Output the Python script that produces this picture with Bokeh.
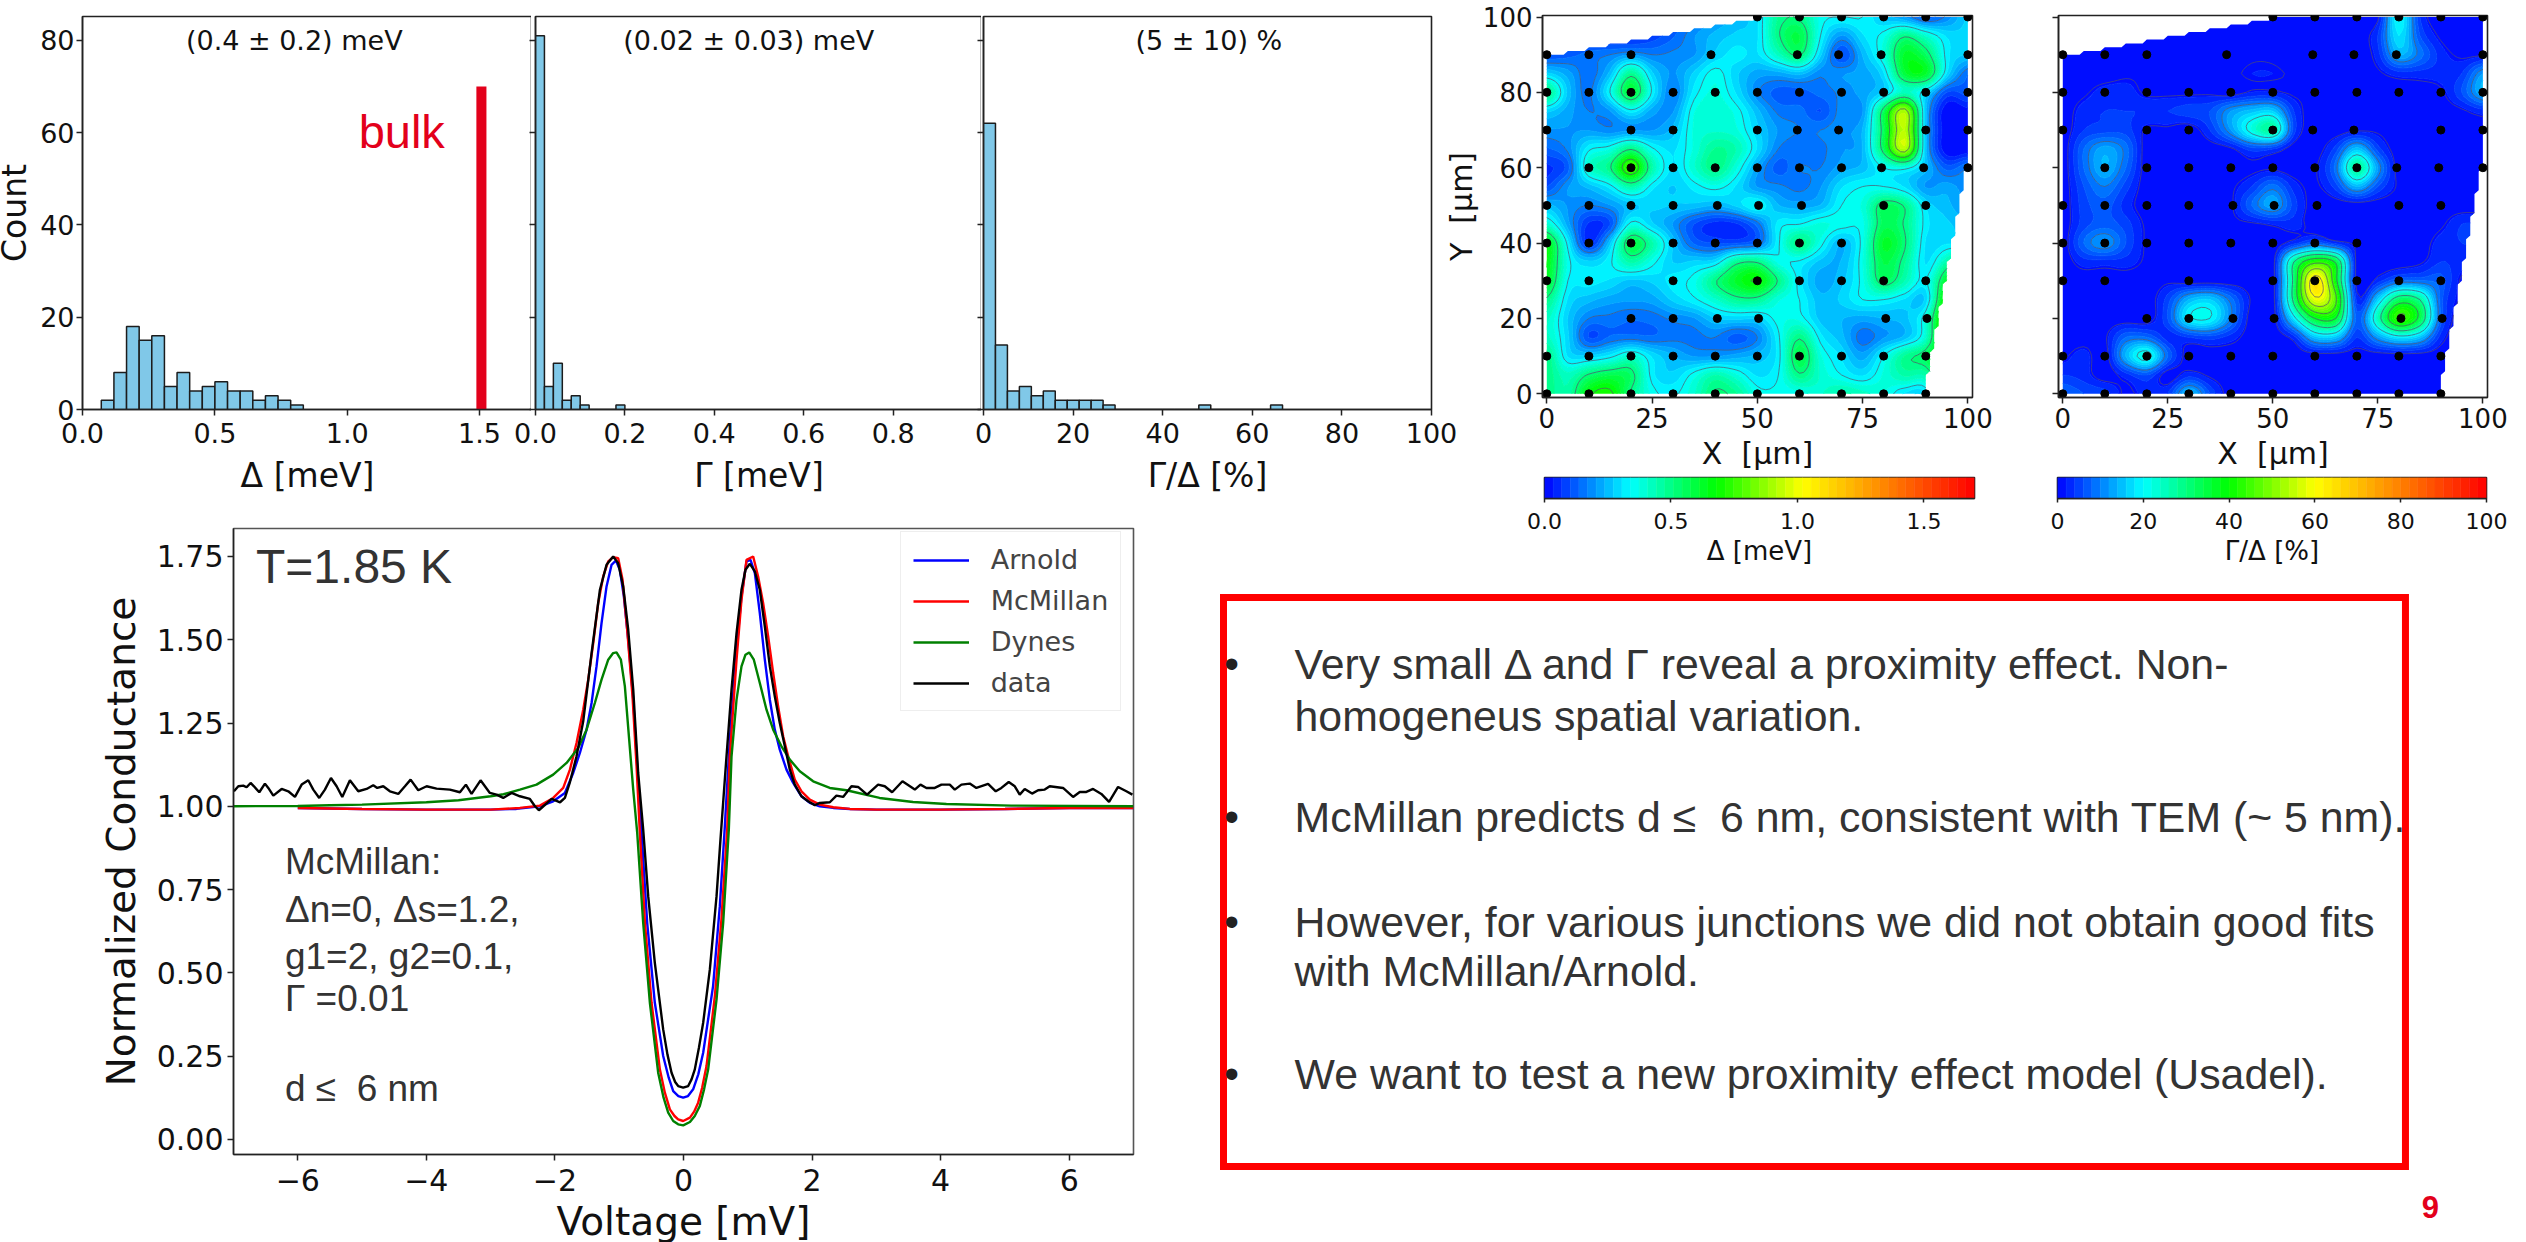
import numpy as np
from bokeh.plotting import figure
from bokeh.models import Range1d, FixedTicker, Legend, LegendItem, Row
from bokeh.core.properties import value
from bokeh.embed import file_html
from bokeh.resources import INLINE

# ---------- histogram data ----------
delta_start, delta_width = 0.071, 0.0477
delta_counts = [2, 8, 18, 15, 16, 5, 8, 4, 5, 6, 4, 4, 2, 3, 2, 1]
gamma_start, gamma_width = 0.0, 0.02
gamma_counts = [81, 5, 10, 2, 3, 1, 0, 0, 0, 1]
ratio_start, ratio_width = 0.0, 2.67
ratio_counts = [62, 14, 4, 5, 3, 4, 2, 2, 2, 2, 1, 0, 0, 0, 0, 0, 0, 0, 1, 0, 0, 0, 0, 0, 1]
hist_titles = ["(0.4 ± 0.2) meV", "(0.02 ± 0.03) meV", "(5 ± 10) %"]
hist_labels = ["Δ [meV]", "Γ [meV]", "Γ/Δ [%]"]
bulk_value, bulk_top = 1.507, 70

# ---------- maps: measured points ----------
pts_y100 = [50, 60, 70, 80, 90, 100]
pts_y90 = [0, 10, 20, 39, 59.5, 69.3, 79.4, 100]
pts_y80 = [0, 10, 20, 30, 40, 50, 60, 70, 80, 90, 100]
pts_y70 = [0, 20, 30, 50, 59.5, 69.3, 90, 100]
pts_y60 = [10, 20, 30, 40, 50, 60, 70, 79.5, 89.5, 100]
pts_y50 = [0, 10, 20, 30, 40.5, 50.3, 60.5, 80, 90]
pts_y40 = [0, 10, 20, 30, 40, 50, 60, 70]
pts_y30 = [0, 10, 30, 50, 60, 70, 80, 90]
pts_y20 = [20, 30, 40.5, 50.3, 80.5, 90.3]
pts_y10 = [0, 10, 20, 30, 40, 50, 60, 70, 80, 90]
pts_y0 = [0, 10, 20, 30, 40, 50, 60, 70, 80, 90]
pts_rows = [(100, pts_y100), (90, pts_y90), (80, pts_y80), (70, pts_y70), (60, pts_y60), (50, pts_y50),
            (40, pts_y40), (30, pts_y30), (20, pts_y20), (10, pts_y10), (0, pts_y0)]
map_grid = list(range(0, 101, 5))
hull_x = [0, 90, 100, 100, 50, 0]
hull_y = [0, 0, 60, 100, 100, 90]

# Delta map (meV), rows y=100 ... y=0, columns x=0 ... 100 every 5
delta_map = [
 [.05,.05,.05,.05,.05,.06,.10,.15,.20,.25,.30,.48,.50,.36,.34,.34,.26,.20,.12,.18,.28],
 [.05,.05,.05,.05,.05,.08,.13,.20,.25,.28,.30,.50,.58,.34,.20,.30,.36,.50,.40,.30,.28],
 [.10,.12,.15,.17,.20,.17,.18,.20,.28,.32,.30,.42,.52,.28,.10,.24,.38,.62,.55,.32,.27],
 [.28,.22,.15,.25,.48,.28,.20,.28,.36,.28,.22,.22,.25,.18,.20,.22,.30,.60,.62,.30,.14],
 [.50,.26,.16,.34,.60,.33,.17,.32,.38,.30,.18,.12,.12,.15,.18,.22,.28,.42,.30,.10,.12],
 [.28,.22,.17,.20,.32,.22,.20,.37,.40,.36,.25,.16,.15,.10,.19,.20,.55,.90,.25,.00,.02],
 [.20,.20,.20,.18,.20,.20,.25,.38,.40,.38,.28,.20,.17,.17,.20,.24,.55,.92,.25,.00,.00],
 [.13,.18,.33,.37,.50,.35,.30,.38,.48,.44,.30,.17,.15,.16,.20,.24,.55,.92,.25,.00,.00],
 [.06,.12,.40,.50,.76,.45,.30,.40,.50,.38,.22,.12,.17,.17,.22,.25,.34,.36,.25,.12,.17],
 [.10,.20,.25,.32,.45,.32,.27,.32,.36,.30,.20,.18,.16,.20,.30,.34,.34,.30,.20,.22,.18],
 [.25,.20,.17,.20,.26,.28,.27,.26,.24,.28,.34,.24,.22,.24,.34,.38,.55,.50,.30,.25,.20],
 [.40,.22,.06,.10,.36,.28,.20,.10,.05,.06,.15,.32,.34,.38,.36,.36,.56,.50,.32,.28,.25],
 [.65,.32,.06,.26,.58,.45,.26,.13,.10,.10,.14,.33,.50,.36,.24,.36,.62,.52,.30,.30,.30],
 [.65,.36,.28,.33,.45,.36,.27,.28,.30,.48,.50,.36,.33,.26,.24,.37,.58,.48,.30,.45,.60],
 [.62,.34,.32,.30,.26,.28,.32,.36,.50,.62,.68,.50,.32,.22,.26,.36,.55,.44,.33,.62,.80],
 [.50,.30,.25,.22,.21,.22,.28,.33,.40,.48,.48,.38,.34,.25,.28,.34,.34,.30,.28,.72,.80],
 [.42,.27,.17,.16,.14,.15,.18,.20,.27,.28,.28,.36,.36,.26,.24,.22,.24,.26,.38,.80,.80],
 [.42,.28,.10,.14,.15,.14,.16,.16,.17,.12,.17,.33,.50,.32,.25,.15,.20,.25,.40,.80,.80],
 [.50,.30,.28,.32,.40,.30,.24,.20,.20,.22,.25,.32,.58,.38,.30,.22,.34,.48,.55,.75,.80],
 [.50,.42,.52,.57,.54,.32,.28,.36,.44,.38,.30,.34,.50,.40,.34,.30,.38,.45,.45,.70,.80],
 [.50,.45,.66,.70,.50,.36,.33,.40,.52,.48,.36,.35,.36,.40,.45,.42,.38,.30,.30,.70,.80],
]
# Gamma/Delta map (%), same layout
ratio_map = [
 [0,0,0,0,0,0,0,0,0,0,0,0,0,0,0,1,20,4,0,1,0],
 [0,0,0,0,0,0,0,0,0,0,1,1,0,0,0,4,18,6,1,0,0],
 [0,0,0,0,0,0,0,0,0,1,1,0,0,0,0,3,14,9,3,1,1],
 [0,0,0,1,1,1,1,1,1,2,2,1,0,0,0,1,3,3,3,4,12],
 [0,1,3,3,1,1,1,1,0,2,2,1,1,0,0,0,0,0,1,6,14],
 [0,3,4,4,4,4,5,6,12,15,16,4,0,0,0,0,0,0,0,1,3],
 [0,4,5,5,1,1,0,4,12,22,27,5,0,0,1,1,0,0,0,0,0],
 [0,8,13,9,0,0,0,0,1,5,4,0,0,5,15,5,0,0,0,0,0],
 [0,8,14,8,0,0,0,0,0,1,1,0,1,9,28,12,0,0,0,0,0],
 [0,6,10,5,0,0,0,0,1,4,9,3,1,5,14,6,1,0,0,0,0],
 [0,5,7,3,0,0,1,1,1,8,13,5,0,0,0,0,0,0,0,0,0],
 [0,5,7,5,1,1,1,1,1,1,2,3,0,0,0,0,0,0,1,4,4],
 [0,8,12,6,1,0,0,0,0,0,0,3,7,3,1,0,0,0,3,4,4],
 [0,3,3,3,1,0,0,0,0,0,0,28,42,35,0,0,0,1,4,3,3],
 [0,0,0,0,0,1,0,0,0,0,0,30,64,38,0,3,8,8,7,1,1],
 [0,0,0,0,0,5,14,16,9,1,0,30,58,45,3,16,32,28,7,1,1],
 [0,0,0,0,0,6,19,20,10,0,0,18,36,36,7,25,44,34,7,0,0],
 [0,0,1,8,8,3,4,5,3,0,0,3,15,15,4,12,18,15,3,0,0],
 [1,3,0,14,22,8,0,0,0,0,0,0,0,0,0,0,0,0,0,0,0],
 [4,3,0,3,6,0,3,1,0,0,0,0,0,0,0,0,0,0,0,0,0],
 [8,6,5,1,3,4,15,6,0,0,0,0,0,0,0,0,0,0,0,0,0],
]

# ---------- conductance curves ----------
arnold_v = [-6,-5,-4,-3,-2.6,-2.234,-2.027,-1.845,-1.716,-1.612,-1.508,-1.43,-1.353,-1.275,-1.197,-1.119,-1.052,-.99,-.928,-.86,-.782,-.72,-.653,-.565,-.446,-.316,-.23,-.16,-.08,-.005,.07,.15,.23,.306,.46,.565,.64,.72,.825,.902,.98,1.042,1.11,1.187,1.265,1.343,1.42,1.498,1.602,1.706,1.835,1.965,2.12,2.33,2.587,3,4,5,6,7]
arnold_y = [.995,.992,.99,.99,.992,1.0,1.015,1.04,1.10,1.16,1.23,1.31,1.42,1.55,1.66,1.725,1.738,1.71,1.63,1.50,1.32,1.12,.92,.65,.41,.25,.185,.145,.13,.125,.13,.15,.195,.26,.46,.70,.93,1.20,1.47,1.63,1.735,1.74,1.70,1.58,1.44,1.32,1.23,1.17,1.11,1.07,1.03,1.01,1.0,.995,.992,.99,.99,.992,.995,.995]
mcmillan_v = [-6,-5,-4,-3,-2.545,-2.234,-2.027,-1.871,-1.767,-1.664,-1.56,-1.482,-1.404,-1.327,-1.249,-1.171,-1.094,-1.016,-.948,-.876,-.793,-.73,-.679,-.60,-.497,-.368,-.29,-.212,-.14,-.083,-.005,.10,.165,.228,.29,.358,.488,.59,.68,.72,.825,.902,.98,1.084,1.161,1.239,1.317,1.395,1.472,1.55,1.628,1.731,1.835,1.965,2.12,2.33,2.587,3,4,5,6,7]
mcmillan_y = [.995,.992,.99,.99,.995,1.002,1.025,1.055,1.11,1.19,1.29,1.38,1.49,1.61,1.69,1.735,1.748,1.745,1.68,1.53,1.33,1.12,.92,.65,.41,.21,.14,.09,.07,.06,.055,.065,.083,.11,.155,.22,.43,.66,.93,1.15,1.44,1.62,1.74,1.75,1.69,1.61,1.51,1.40,1.30,1.21,1.15,1.08,1.045,1.02,1.005,.997,.992,.99,.99,.992,.995,.995]
dynes_v = [-7,-6,-5.5,-5,-4,-3.5,-3,-2.8,-2.545,-2.286,-2.027,-1.819,-1.638,-1.508,-1.379,-1.275,-1.171,-1.094,-1.042,-.974,-.912,-.845,-.782,-.72,-.627,-.523,-.394,-.31,-.238,-.16,-.083,-.005,.10,.175,.254,.32,.384,.514,.617,.705,.747,.825,.902,.964,1.022,1.094,1.187,1.291,1.395,1.524,1.654,1.809,2.017,2.276,2.535,3.05,3.57,4.09,5.1,7]
dynes_y = [1.0,1.001,1.003,1.005,1.012,1.018,1.03,1.036,1.05,1.065,1.095,1.13,1.175,1.23,1.31,1.38,1.44,1.46,1.462,1.44,1.36,1.20,1.05,.92,.65,.41,.20,.125,.08,.055,.045,.042,.052,.07,.10,.15,.21,.42,.65,.93,1.15,1.32,1.42,1.455,1.462,1.44,1.37,1.29,1.23,1.18,1.14,1.105,1.075,1.055,1.048,1.025,1.013,1.007,1.002,1.0]
data_v = [-6.993,-6.925,-6.848,-6.796,-6.734,-6.682,-6.599,-6.511,-6.459,-6.381,-6.251,-6.148,-6.044,-5.94,-5.837,-5.759,-5.666,-5.578,-5.484,-5.396,-5.308,-5.189,-5.059,-4.93,-4.826,-4.764,-4.67,-4.567,-4.437,-4.333,-4.245,-4.126,-3.996,-3.841,-3.634,-3.478,-3.385,-3.297,-3.157,-3.012,-2.908,-2.804,-2.674,-2.545,-2.39,-2.31,-2.25,-2.18,-2.05,-1.92,-1.845,-1.77,-1.664,-1.56,-1.43,-1.30,-1.197,-1.094,-1.016,-.938,-.86,-.782,-.705,-.627,-.549,-.446,-.316,-.25,-.186,-.13,-.083,-.005,.073,.125,.176,.24,.306,.41,.514,.575,.669,.747,.825,.902,.964,1.032,1.11,1.187,1.265,1.343,1.42,1.498,1.576,1.654,1.731,1.835,1.939,2.043,2.12,2.276,2.379,2.483,2.613,2.716,2.856,3.027,3.131,3.245,3.406,3.598,3.686,3.779,3.909,4.012,4.142,4.22,4.323,4.453,4.556,4.738,4.857,4.945,5.059,5.153,5.23,5.308,5.422,5.516,5.619,5.697,5.904,6.06,6.164,6.267,6.371,6.5,6.62,6.76,6.889,6.983]
data_y = [1.045,1.06,1.062,1.057,1.07,1.06,1.042,1.068,1.055,1.032,1.052,1.045,1.028,1.065,1.078,1.05,1.025,1.05,1.085,1.06,1.028,1.078,1.045,1.052,1.063,1.055,1.06,1.045,1.037,1.06,1.08,1.048,1.06,1.053,1.05,1.042,1.065,1.037,1.078,1.04,1.035,1.025,1.04,1.03,1.022,1.0,.988,1.0,1.022,1.012,1.025,1.07,1.15,1.255,1.46,1.65,1.725,1.75,1.73,1.66,1.53,1.35,1.10,.93,.73,.53,.33,.255,.20,.172,.16,.155,.16,.18,.21,.275,.35,.51,.73,.90,1.15,1.35,1.52,1.65,1.71,1.728,1.705,1.65,1.54,1.42,1.33,1.25,1.18,1.11,1.065,1.03,1.015,1.003,1.01,1.012,1.032,1.028,1.06,1.058,1.035,1.065,1.06,1.042,1.075,1.05,1.065,1.055,1.055,1.065,1.065,1.05,1.065,1.068,1.055,1.067,1.045,1.055,1.073,1.06,1.035,1.052,1.038,1.048,1.05,1.06,1.055,1.028,1.043,1.043,1.052,1.037,1.013,1.058,1.045,1.035]
legend_names = ["Arnold", "McMillan", "Dynes", "data"]
note_lines = ["McMillan:", "Δn=0, Δs=1.2,", "g1=2, g2=0.1,", "Γ =0.01", "d ≤\u00a0 6 nm"]
bullets = [
    ["Very small Δ and Γ reveal a proximity effect. Non-", "homogeneus spatial variation."],
    ["McMillan predicts d ≤\u00a0 6 nm, consistent with TEM (~ 5 nm)."],
    ["However, for various junctions we did not obtain good fits", "with McMillan/Arnold."],
    ["We want to test a new proximity effect model (Usadel)."],
]

# ---------- helpers ----------
DEJA = "DejaVu Sans"
ARIAL = "Liberation Sans"
placed = []

def panel(fx0, fx1, fy0, fy1, l, r, t, b, xr, yr, **kw):
    fw, fh = fx1 - fx0, fy1 - fy0
    p = figure(width=l + fw + r, height=t + fh + b, frame_width=fw, frame_height=fh,
               min_border_left=l, min_border_right=r, min_border_top=t, min_border_bottom=b,
               x_range=Range1d(*xr), y_range=Range1d(*yr), output_backend="svg", toolbar_location=None,
               background_fill_color=None, border_fill_color=None, **kw)
    p.grid.visible = False
    p.outline_line_color = "#222222"
    p.outline_line_width = 1.6
    placed.append((fx0 - l, fy0 - t, p))
    return p

def style(ax, ticks, labels, size, label=None, lsize=33, ll=6, standoff=4, lstand=4):
    ax.ticker = FixedTicker(ticks=ticks)
    ax.major_label_overrides = dict(zip(ticks, labels))
    ax.major_label_text_font = DEJA
    ax.major_label_text_font_size = size
    ax.major_label_text_color = "#111111"
    ax.major_label_standoff = standoff
    ax.major_tick_in = 0
    ax.major_tick_out = ll
    ax.minor_tick_line_color = None
    ax.major_tick_line_color = "#222222"
    ax.major_tick_line_width = 1.5
    ax.axis_line_color = "#222222"
    ax.axis_line_width = 1.5
    if label:
        ax.axis_label = label
        ax.axis_label_text_font = DEJA
        ax.axis_label_text_font_style = "normal"
        ax.axis_label_text_font_size = f"{lsize}px"
        ax.axis_label_text_color = "#111111"
        ax.axis_label_standoff = lstand

def draw_hist(p, start, width, counts):
    edges = start + width * np.arange(len(counts) + 1)
    p.quad(left=edges[:-1], right=edges[1:], bottom=0, top=counts,
           fill_color="#80C8E8", line_color="#1c1c1c", line_width=1.5)

# ---------- histograms ----------
HY = (0, 85.15)
count_ticks = [0, 20, 40, 60, 80]
h1 = panel(86, 535, 17, 410, 86, 0, 0, 110, (0, 1.7), HY)
h2 = panel(535, 981, 17, 410, 40, 0, 0, 110, (0, 1), HY)
h3 = panel(981, 1428, 17, 410, 40, 40, 0, 110, (0, 100), HY)
style(h1.yaxis[0], count_ticks, [str(v) for v in count_ticks], "27px", "Count", 33, standoff=2, lstand=3)
style(h2.yaxis[0], count_ticks, [""] * 5, "27px", standoff=0)
style(h3.yaxis[0], count_ticks, [""] * 5, "27px", standoff=0)
style(h1.xaxis[0], [0, .5, 1, 1.5], ["0.0", "0.5", "1.0", "1.5"], "27px", hist_labels[0], standoff=7, lstand=10)
style(h2.xaxis[0], [0, .2, .4, .6, .8], ["0.0", "0.2", "0.4", "0.6", "0.8"], "27px", hist_labels[1], standoff=7, lstand=10)
style(h3.xaxis[0], [0, 20, 40, 60, 80, 100], ["0", "20", "40", "60", "80", "100"], "27px", hist_labels[2], standoff=7, lstand=10)
draw_hist(h1, delta_start, delta_width, delta_counts)
draw_hist(h2, gamma_start, gamma_width, gamma_counts)
draw_hist(h3, ratio_start, ratio_width, ratio_counts)
h1.vbar(x=[bulk_value], width=0.038, bottom=0, top=[bulk_top], fill_color="#E3001B", line_color=None)
h1.text(x=[1.206], y=[60.3], text=["bulk"], text_color="#E3001B", text_font=value(ARIAL), text_font_size="47px",
        text_align="center", text_baseline="middle")
for p, xc, t in zip((h1, h2, h3), (0.80, 0.477, 50.3), hist_titles):
    p.text(x=[xc], y=[80], text=[t], text_color="#111111", text_font=value(DEJA), text_font_size="27px",
           text_align="center", text_baseline="middle")

# ---------- colour scale ----------
def ramp(t):
    nodes = [(0, (0, 0, 255)), (.2, (0, 255, 255)), (.4, (0, 255, 0)), (.6, (255, 255, 0)), (1, (255, 0, 0))]
    for (a, ca), (b, cb) in zip(nodes[:-1], nodes[1:]):
        if t <= b:
            f = (t - a) / (b - a)
            c = [round(u + f * (v - u)) for u, v in zip(ca, cb)]
            return "#%02x%02x%02x" % tuple(c)
    return "#ff0000"

NLEV = 50
palette = [ramp((i + .5) / NLEV) for i in range(NLEV)]

def smooth(z, step=1.0):
    z = np.asarray(z, float)[::-1]
    def along(a, n):
        q = np.arange(0, (n - 1) * 5 + step / 2, step) / 5
        i = np.minimum(q.astype(int), n - 2)
        f = (q - i)[:, None]
        p0, p1, p2, p3 = a[np.maximum(i - 1, 0)], a[i], a[i + 1], a[np.minimum(i + 2, n - 1)]
        return .5 * (2 * p1 + (p2 - p0) * f + (2 * p0 - 5 * p1 + 4 * p2 - p3) * f**2 + (3 * p1 - p0 - 3 * p2 + p3) * f**3)
    z = along(z, z.shape[0])
    z = along(z.T, z.shape[1]).T
    return z

def draw_map(p, table, vmax, line_levels):
    z = np.clip(smooth(table), 0, vmax)
    xs = np.arange(0, 100.5, 1.0)
    ys = np.arange(0, 100.5, 1.0)
    X, Y = np.meshgrid(xs, ys)
    inside = np.ones_like(X, bool)
    n = len(hull_x)
    for k in range(n):
        x0, y0, x1, y1 = hull_x[k], hull_y[k], hull_x[(k + 1) % n], hull_y[(k + 1) % n]
        inside &= (x1 - x0) * (Y - y0) - (y1 - y0) * (X - x0) >= -1e-9
    zm = np.ma.masked_array(z, ~inside)
    levels = list(np.linspace(0, vmax, NLEV + 1))
    levels[0] = -1e-6
    levels[-1] = vmax * 1.001
    p.contour(xs, ys, zm, levels=levels, fill_color=palette, line_color=palette + palette[-1:], line_width=1)
    p.contour(xs, ys, zm, levels=line_levels, fill_color=None, line_color="#505070", line_alpha=0.7, line_width=1)
    px = [x for _, row in pts_rows for x in row]
    py = [y for y, row in pts_rows for _ in row]
    p.scatter(px, py, size=8, fill_color="black", line_color="black")

MX = (-1.02, 101.1)
MY = (-0.98, 100.4)
ax_ticks = [0, 25, 50, 75, 100]
ax_labels = [str(t) for t in ax_ticks]
y_ticks = [0, 20, 40, 60, 80, 100]
m1 = panel(1537, 1966, 15, 397, 105, 30, 15, 80, MX, MY)
m2 = panel(2048, 2476, 15, 397, 20, 30, 15, 80, MX, MY)
style(m1.xaxis[0], ax_ticks, ax_labels, "26px", "X \u00a0[μm]", 30, lstand=5)
style(m2.xaxis[0], ax_ticks, ax_labels, "26px", "X \u00a0[μm]", 30, lstand=5)
style(m1.yaxis[0], y_ticks, [str(t) for t in y_ticks], "26px", "Y \u00a0[μm]", 30, lstand=1)
style(m2.yaxis[0], y_ticks, [""] * 6, "26px", standoff=0)
draw_map(m1, delta_map, 1.7, [.17, .34, .51, .68, .85])
draw_map(m2, ratio_map, 100, [1.5, 10, 20, 28, 36, 44, 52, 60])

# ---------- colour bars ----------
def colour_bar(fx0, fx1, vmax, ticks, labels, label):
    p = panel(fx0, fx1, 478, 499, 30, 30, 0, 85, (0, vmax), (0, 1))
    e = np.linspace(0, vmax, NLEV + 1)
    p.quad(left=e[:-1], right=e[1:], bottom=0, top=1, fill_color=palette, line_color=palette, line_width=.5)
    p.yaxis.visible = False
    style(p.xaxis[0], ticks, labels, "22px", label, 26, ll=4, standoff=10)
    return p

colour_bar(1537, 1966, 1.7, [0, .5, 1, 1.5], ["0.0", "0.5", "1.0", "1.5"], "Δ [meV]")
colour_bar(2048, 2476, 100, [0, 20, 40, 60, 80, 100], ["0", "20", "40", "60", "80", "100"], "Γ/Δ [%]")

# ---------- conductance ----------
c = panel(234, 1133, 529, 1155, 125, 10, 0, 103, (-7, 7), (-0.0456, 1.834))
vt = [-6, -4, -2, 0, 2, 4, 6]
style(c.xaxis[0], vt, [str(v).replace("-", "−") for v in vt], "30px", "Voltage [mV]", 39, standoff=8, lstand=5)
gt = [0, .25, .5, .75, 1, 1.25, 1.5, 1.75]
style(c.yaxis[0], gt, ["%.2f" % v for v in gt], "30px", "Normalized Conductance", 39, lstand=10)
c.outline_line_color = "#555555"
r_a = c.line(arnold_v, arnold_y, line_color="#0000ff", line_width=2.4)
r_m = c.line(mcmillan_v, mcmillan_y, line_color="#ff0000", line_width=2.4)
r_d = c.line(dynes_v, dynes_y, line_color="#008000", line_width=2.4)
r_b = c.line(data_v, data_y, line_color="#000000", line_width=2.4)
leg = Legend(items=[LegendItem(label=n, renderers=[r]) for n, r in zip(legend_names, (r_a, r_m, r_d, r_b))],
             location=(667, 443), label_text_font=DEJA, label_text_font_size="27px", glyph_width=56, glyph_height=22,
             label_standoff=22, spacing=10, padding=12, margin=0, border_line_color="#dddddd", border_line_width=1.5,
             background_fill_color="white", background_fill_alpha=0.8, label_height=30)
c.add_layout(leg, "center")
c.text(x=[-6.65], y=[1.72], text=["T=1.85 K"], text_color="#333333", text_font=value(ARIAL), text_font_size="48px",
       text_align="left", text_baseline="middle")
for txt, yv in zip(note_lines, (.834, .689, .55, .423, .153)):
    c.text(x=[-6.2], y=[yv], text=[txt], text_color="#333333", text_font=value(ARIAL), text_font_size="37px",
           text_align="left", text_baseline="middle")

# ---------- text box ----------
b = panel(1210, 2445, 590, 1246, 0, 0, 0, 0, (1210, 2445), (1246, 590), x_axis_location=None, y_axis_location=None)
b.outline_line_color = None
b.quad(left=[1219], right=[2400], top=[598], bottom=[1167], fill_color=None, line_color="#ff0000", line_width=7, line_join="miter")
rows_y = [(664, 716), (817,), (922, 971), (1074,)]
for lines, ys in zip(bullets, rows_y):
    b.text(x=[1227], y=[ys[0]], text=["•"], text_color="#222222", text_font=value(ARIAL), text_font_size="42px",
           text_align="center", text_baseline="middle")
    for t, yy in zip(lines, ys):
        b.text(x=[1290], y=[yy], text=[t], text_color="#333333", text_font=value(ARIAL), text_font_size="42.8px",
               text_align="left", text_baseline="middle")
b.text(x=[2425], y=[1207], text=["9"], text_color="#E3001B", text_font=value(ARIAL), text_font_size="31px",
       text_font_style="bold", text_align="center", text_baseline="middle")

# ---------- page ----------
placed.sort(key=lambda t: t[0])
children = []
right = 0
nudge_x, nudge_y = -12, -16
for i, (x, y, p) in enumerate(placed):
    p.margin = (y + nudge_y if y > 0 else 0, 0, 0, x - right + (nudge_x if i == 1 else 0))
    right = x + p.width
    children.append(p)
root = Row(children=children, width=2526, height=1242, spacing=0, margin=(0, 0, 0, -8))
open("out.html", "w").write(file_html(root, INLINE))
